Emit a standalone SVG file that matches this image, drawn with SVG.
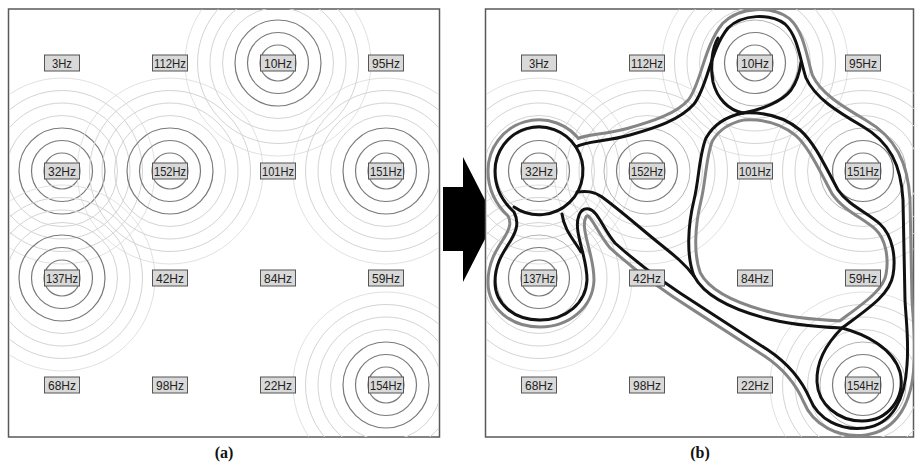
<svg xmlns="http://www.w3.org/2000/svg" width="915" height="474" viewBox="0 0 915 474">
  <style>
    .frame { fill: #fff; stroke: #5a5a5a; stroke-width: 1.5; }
    .ring-d { fill: none; stroke: #7a7a7a; stroke-width: 1.2; }
    .ring-l { fill: none; stroke: #d4d4d4; stroke-width: 1; }
    .ring-m { fill: none; stroke: #b4b4b4; stroke-width: 1; }
    .box { fill: #d9d9d9; stroke: #555; stroke-width: 1; }
    .lbl { font-family: "Liberation Sans", Arial, sans-serif; font-size: 13.5px; fill: #222; text-anchor: middle; }
    .cap { font-family: "Liberation Serif", "Times New Roman", serif; font-size: 16px; font-weight: bold; fill: #111; text-anchor: middle; }
    .halo { fill: none; stroke: #858585; stroke-width: 17; stroke-linejoin: round; }
    .hull-k { fill: none; stroke: #111; stroke-width: 3; stroke-linejoin: round; stroke-linecap: round; }
  </style>
  <defs>
    <!-- ripple rings around an active frequency -->
    <g id="ripple">
      <circle r="93" class="ring-l" opacity="0.7"/>
      <circle r="80.5" class="ring-l"/>
      <circle r="68" class="ring-l"/>
      <circle r="55.5" class="ring-l"/>
      <circle r="43" class="ring-d"/>
      <circle r="30.5" class="ring-d"/>
      <circle r="18" class="ring-d"/>
    </g>
    <g id="ripple-b">
      <circle r="93" class="ring-l" opacity="0.7"/>
      <circle r="80.5" class="ring-l"/>
      <circle r="68" class="ring-l"/>
      <circle r="55.5" class="ring-l"/>
      <circle r="43" class="ring-m"/>
      <circle r="30.5" class="ring-d"/>
      <circle r="18" class="ring-d"/>
    </g>
    <clipPath id="clipA"><rect x="9" y="9" width="430" height="428"/></clipPath>
    <clipPath id="clipB"><rect x="486" y="9" width="428" height="428"/></clipPath>
    <!-- merged cluster region with its inner hole -->
    <path id="region" fill-rule="evenodd" d="M495,171 A44,44 0 0 1 576,147 C585,141 605,142 630,135 C655,128 680,120 694,104 C708,86 710,50 728,28 C742,14 770,13 785,24 C798,36 800,60 806,78 C815,98 838,112 862,126 C890,142 901,165 903,200 L905,300 C906,320 909,340 907,365 C905,400 892,424 865,428 C840,431 818,419 810,399 C803,383 792,366 768,350 L700,306 C665,284 636,262 615,243 C603,229 598,211 589,209 C579,207 576,220 578,232 C581,250 587,262 587,280 C586,303 566,320 540,320 C514,320 495,304 495,282 C495,262 505,250 511,240 C517,230 519,222 514,212 C503,202 495,188 495,171 Z M743,113 C760,112 782,115 800,130 C815,143 826,168 838,190 C848,205 868,213 880,224 C893,236 896,258 893,275 C890,295 866,310 842,328 C820,327 790,325 765,318 C735,310 705,297 694,276 C686,255 688,225 694,200 C699,180 699,155 706,138 C714,124 728,116 743,113 Z"/>
    <mask id="outside">
      <rect x="0" y="0" width="915" height="474" fill="white"/>
      <use href="#region" fill="black" stroke="black" stroke-width="11"/>
    </mask>
  </defs>

  <!-- panel (a) -->
  <rect class="frame" x="8.5" y="9" width="431" height="428"/>
  <g clip-path="url(#clipA)">
    <use href="#ripple" x="278" y="63"/>
    <use href="#ripple" x="62" y="171"/>
    <use href="#ripple" x="170" y="171"/>
    <use href="#ripple" x="386" y="171"/>
    <use href="#ripple" x="62" y="278"/>
    <use href="#ripple" x="386" y="385"/>
  </g>
  <g id="a-nodes">
    <g id="a-3Hz"><rect class="box" x="44.5" y="55" width="35" height="16"/><text class="lbl" x="62" y="67.5" textLength="20" lengthAdjust="spacingAndGlyphs">3Hz</text></g>
    <g id="a-112Hz"><rect class="box" x="152.5" y="55" width="35" height="16"/><text class="lbl" x="170" y="67.5" textLength="32" lengthAdjust="spacingAndGlyphs">112Hz</text></g>
    <g id="a-10Hz"><rect class="box" x="260.5" y="55" width="35" height="16"/><text class="lbl" x="278" y="67.5" textLength="28" lengthAdjust="spacingAndGlyphs">10Hz</text></g>
    <g id="a-95Hz"><rect class="box" x="368.5" y="55" width="35" height="16"/><text class="lbl" x="386" y="67.5" textLength="28" lengthAdjust="spacingAndGlyphs">95Hz</text></g>
    <g id="a-32Hz"><rect class="box" x="44.5" y="163" width="35" height="16"/><text class="lbl" x="62" y="175.5" textLength="28" lengthAdjust="spacingAndGlyphs">32Hz</text></g>
    <g id="a-152Hz"><rect class="box" x="152.5" y="163" width="35" height="16"/><text class="lbl" x="170" y="175.5" textLength="32" lengthAdjust="spacingAndGlyphs">152Hz</text></g>
    <g id="a-101Hz"><rect class="box" x="260.5" y="163" width="35" height="16"/><text class="lbl" x="278" y="175.5" textLength="32" lengthAdjust="spacingAndGlyphs">101Hz</text></g>
    <g id="a-151Hz"><rect class="box" x="368.5" y="163" width="35" height="16"/><text class="lbl" x="386" y="175.5" textLength="32" lengthAdjust="spacingAndGlyphs">151Hz</text></g>
    <g id="a-137Hz"><rect class="box" x="44.5" y="270" width="35" height="16"/><text class="lbl" x="62" y="282.5" textLength="32" lengthAdjust="spacingAndGlyphs">137Hz</text></g>
    <g id="a-42Hz"><rect class="box" x="152.5" y="270" width="35" height="16"/><text class="lbl" x="170" y="282.5" textLength="28" lengthAdjust="spacingAndGlyphs">42Hz</text></g>
    <g id="a-84Hz"><rect class="box" x="260.5" y="270" width="35" height="16"/><text class="lbl" x="278" y="282.5" textLength="28" lengthAdjust="spacingAndGlyphs">84Hz</text></g>
    <g id="a-59Hz"><rect class="box" x="368.5" y="270" width="35" height="16"/><text class="lbl" x="386" y="282.5" textLength="28" lengthAdjust="spacingAndGlyphs">59Hz</text></g>
    <g id="a-68Hz"><rect class="box" x="44.5" y="377" width="35" height="16"/><text class="lbl" x="62" y="389.5" textLength="28" lengthAdjust="spacingAndGlyphs">68Hz</text></g>
    <g id="a-98Hz"><rect class="box" x="152.5" y="377" width="35" height="16"/><text class="lbl" x="170" y="389.5" textLength="28" lengthAdjust="spacingAndGlyphs">98Hz</text></g>
    <g id="a-22Hz"><rect class="box" x="260.5" y="377" width="35" height="16"/><text class="lbl" x="278" y="389.5" textLength="28" lengthAdjust="spacingAndGlyphs">22Hz</text></g>
    <g id="a-154Hz"><rect class="box" x="368.5" y="377" width="35" height="16"/><text class="lbl" x="386" y="389.5" textLength="32" lengthAdjust="spacingAndGlyphs">154Hz</text></g>
  </g>
  <text class="cap" x="224" y="458">(a)</text>

  <!-- transition arrow -->
  <polygon points="443,187 463,187 463,157 495,219.5 463,282 463,251 443,251" fill="#000"/>

  <!-- panel (b) -->
  <rect class="frame" x="485.5" y="9" width="428" height="428"/>
  <g clip-path="url(#clipB)">
    <use href="#ripple-b" x="755" y="63"/>
    <use href="#ripple-b" x="539" y="171"/>
    <use href="#ripple-b" x="647" y="171"/>
    <use href="#ripple-b" x="863" y="171"/>
    <use href="#ripple-b" x="539" y="278"/>
    <use href="#ripple-b" x="863" y="385"/>

    <g id="connectors">
      <!-- grey halo just outside the region -->
      <use href="#region" class="halo" mask="url(#outside)"/>
      <!-- region boundary -->
      <use href="#region" class="hull-k"/>
      <!-- rest of the contour round 32Hz -->
      <path class="hull-k" d="M576,147 A44,44 0 0 1 514,207"/>
      <!-- neck from the 137Hz lobe into the 32Hz contour -->
      <path class="hull-k" d="M581,252 C574,240 564,230 562,214"/>
      <!-- loop under 10Hz, crossing at the top of the hole -->
      <path class="hull-k" d="M743,113 C728,110 717,98 713,82 C710,66 712,48 718,38"/>
      <path class="hull-k" d="M743,113 C760,110 782,102 791,90 C798,80 800,70 801,62"/>
      <!-- loop round 154Hz, crossing at the foot of the hole -->
      <path class="hull-k" d="M842,328 C865,334 893,348 900,372 C906,398 888,421 862,421 C838,421 818,404 817,382 C816,360 828,342 842,328"/>
      <!-- branch from 32Hz running down into the hole contour -->
      <path class="hull-k" d="M577,192 C586,191 594,191 602,197 C620,210 640,228 660,244 C675,256 685,264 694,276"/>
    </g>
  </g>
  <g id="b-nodes">
    <g id="b-3Hz"><rect class="box" x="521.5" y="55" width="35" height="16"/><text class="lbl" x="539" y="67.5" textLength="20" lengthAdjust="spacingAndGlyphs">3Hz</text></g>
    <g id="b-112Hz"><rect class="box" x="629.5" y="55" width="35" height="16"/><text class="lbl" x="647" y="67.5" textLength="32" lengthAdjust="spacingAndGlyphs">112Hz</text></g>
    <g id="b-10Hz"><rect class="box" x="737.5" y="55" width="35" height="16"/><text class="lbl" x="755" y="67.5" textLength="28" lengthAdjust="spacingAndGlyphs">10Hz</text></g>
    <g id="b-95Hz"><rect class="box" x="845.5" y="55" width="35" height="16"/><text class="lbl" x="863" y="67.5" textLength="28" lengthAdjust="spacingAndGlyphs">95Hz</text></g>
    <g id="b-32Hz"><rect class="box" x="521.5" y="163" width="35" height="16"/><text class="lbl" x="539" y="175.5" textLength="28" lengthAdjust="spacingAndGlyphs">32Hz</text></g>
    <g id="b-152Hz"><rect class="box" x="629.5" y="163" width="35" height="16"/><text class="lbl" x="647" y="175.5" textLength="32" lengthAdjust="spacingAndGlyphs">152Hz</text></g>
    <g id="b-101Hz"><rect class="box" x="737.5" y="163" width="35" height="16"/><text class="lbl" x="755" y="175.5" textLength="32" lengthAdjust="spacingAndGlyphs">101Hz</text></g>
    <g id="b-151Hz"><rect class="box" x="845.5" y="163" width="35" height="16"/><text class="lbl" x="863" y="175.5" textLength="32" lengthAdjust="spacingAndGlyphs">151Hz</text></g>
    <g id="b-137Hz"><rect class="box" x="521.5" y="270" width="35" height="16"/><text class="lbl" x="539" y="282.5" textLength="32" lengthAdjust="spacingAndGlyphs">137Hz</text></g>
    <g id="b-42Hz"><rect class="box" x="629.5" y="270" width="35" height="16"/><text class="lbl" x="647" y="282.5" textLength="28" lengthAdjust="spacingAndGlyphs">42Hz</text></g>
    <g id="b-84Hz"><rect class="box" x="737.5" y="270" width="35" height="16"/><text class="lbl" x="755" y="282.5" textLength="28" lengthAdjust="spacingAndGlyphs">84Hz</text></g>
    <g id="b-59Hz"><rect class="box" x="845.5" y="270" width="35" height="16"/><text class="lbl" x="863" y="282.5" textLength="28" lengthAdjust="spacingAndGlyphs">59Hz</text></g>
    <g id="b-68Hz"><rect class="box" x="521.5" y="377" width="35" height="16"/><text class="lbl" x="539" y="389.5" textLength="28" lengthAdjust="spacingAndGlyphs">68Hz</text></g>
    <g id="b-98Hz"><rect class="box" x="629.5" y="377" width="35" height="16"/><text class="lbl" x="647" y="389.5" textLength="28" lengthAdjust="spacingAndGlyphs">98Hz</text></g>
    <g id="b-22Hz"><rect class="box" x="737.5" y="377" width="35" height="16"/><text class="lbl" x="755" y="389.5" textLength="28" lengthAdjust="spacingAndGlyphs">22Hz</text></g>
    <g id="b-154Hz"><rect class="box" x="845.5" y="377" width="35" height="16"/><text class="lbl" x="863" y="389.5" textLength="32" lengthAdjust="spacingAndGlyphs">154Hz</text></g>
  </g>
  <text class="cap" x="700" y="458">(b)</text>
</svg>
